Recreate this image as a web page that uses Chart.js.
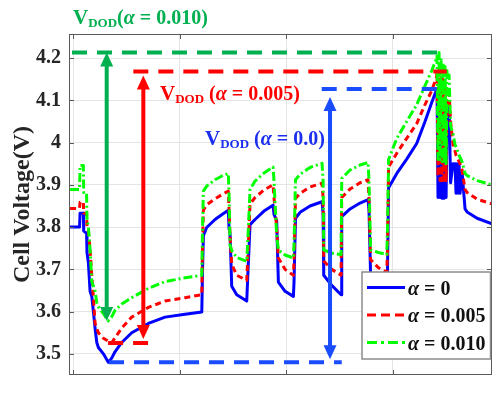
<!DOCTYPE html>
<html><head><meta charset="utf-8">
<script src="https://cdn.jsdelivr.net/npm/chart.js@4.4.0/dist/chart.umd.min.js"></script>
<style>html,body{margin:0;padding:0;background:#fff;}</style>
</head><body>
<canvas id="c" width="493" height="395"></canvas>
<script>
// ---- data (time in arbitrary units, voltage in V) ----
const timeS = [-28,61,66,97,100,127,131,144,160,176,191,207,223,238,285,331,363,394,457,551,707,864,1052,1209,
1216,1224,1255,1333,1399,1458,1465,1474,1490,1537,1631,
1643,1662,1709,1793,1878,1887,1912,1928,1991,2069,
2075,2089,2132,2225,2338,2348,2354,2429,2517,
2523,2601,2695,2770,2779,2794,2867,2946,
2953,2963,3040,3133,3227,3305,3368,3413,3418,3427,3437,3446,3456,3465,3474,3484,3493,3503,3512,3521,3531,
3545,3568,3587,3596,3606,3615,3625,3634,3653,3681,3700,3794,3934];
const vAlpha0 = [3.800,3.800,3.833,3.833,3.791,3.785,3.740,3.716,3.648,3.636,3.600,3.560,3.527,3.515,3.500,3.480,3.490,3.505,3.527,3.550,3.572,3.587,3.594,3.599,
3.700,3.780,3.799,3.818,3.830,3.840,3.796,3.785,3.660,3.640,3.625,
3.697,3.806,3.818,3.838,3.852,3.830,3.815,3.670,3.648,3.636,
3.670,3.821,3.835,3.850,3.860,3.833,3.686,3.662,3.640,
3.825,3.843,3.857,3.865,3.840,3.686,3.660,3.645,
3.700,3.893,3.927,3.961,3.998,4.050,4.095,4.125,4.127,3.870,4.110,3.870,4.100,3.868,4.090,3.868,4.080,3.870,4.070,4.060,4.090,
3.905,3.950,3.950,3.880,3.950,3.880,3.950,3.880,3.930,3.843,3.836,3.821,3.808];
const vAlpha005 = [3.844,3.844,3.859,3.859,3.833,3.833,3.800,3.791,3.746,3.686,3.633,3.572,3.560,3.550,3.537,3.530,3.526,3.538,3.561,3.587,3.610,3.625,3.633,3.640,
3.760,3.840,3.853,3.867,3.877,3.885,3.840,3.780,3.712,3.686,3.674,
3.740,3.855,3.870,3.888,3.900,3.870,3.800,3.727,3.700,3.686,
3.720,3.868,3.880,3.895,3.904,3.870,3.720,3.700,3.686,
3.870,3.890,3.905,3.912,3.870,3.723,3.704,3.693,
3.750,3.942,3.975,4.010,4.045,4.090,4.123,4.155,4.165,3.920,4.168,3.910,4.160,3.910,4.150,3.905,4.140,3.910,4.130,4.110,4.120,
4.050,3.995,3.980,3.970,3.965,3.960,3.955,3.950,3.935,3.889,3.882,3.866,3.855];
const vAlpha010 = [3.889,3.889,3.946,3.946,3.882,3.882,3.821,3.800,3.746,3.671,3.660,3.648,3.621,3.612,3.595,3.578,3.588,3.603,3.618,3.633,3.655,3.671,3.680,3.686,
3.800,3.885,3.897,3.912,3.921,3.927,3.880,3.757,3.745,3.728,3.719,
3.780,3.889,3.909,3.928,3.942,3.910,3.780,3.746,3.734,3.727,
3.760,3.912,3.925,3.941,3.951,3.910,3.746,3.738,3.735,
3.915,3.935,3.947,3.953,3.910,3.746,3.740,3.735,
3.800,3.960,4.010,4.050,4.090,4.135,4.170,4.200,4.205,3.960,4.213,3.960,4.200,3.955,4.190,3.950,4.180,3.950,4.170,4.150,4.160,
4.040,4.020,3.995,3.990,3.985,3.975,3.970,3.965,3.955,3.927,3.922,3.910,3.900];
const seriesNames = ['α = 0', 'α = 0.005', 'α = 0.010'];
const yTicks = [3.5, 3.6, 3.7, 3.8, 3.9, 4.0, 4.1, 4.2];
const xTicks = [0, 1000, 2000, 3000];
const yTitle = 'Cell Voltage(V)';

// ---- styles / annotation config ----
const SERIF = '"Liberation Serif", "Times New Roman", serif';
const lineColors = ['#0000ff', '#ff0000', '#00ff00'];
const plotDash = [[], [6, 4], [9, 3, 2, 3]];
const legendDash = [[], [9, 5], [10, 4, 3, 4]];
const seriesVals = [vAlpha0, vAlpha005, vAlpha010];
const dodMarks = [
  { s: 2, color: '#00b050', text: '#00b050', top: [-10, 3484], bot: null, arrowX: 316, gapT: 0, gapB: 0, lab: [0, 4.2796], sep: '', val: '0.010' },
  { s: 1, color: '#ff0000', text: '#ff0000', top: [566, 3509], bot: [329, 704], arrowX: 660, gapT: 4, gapB: 4, lab: [817, 4.101], sep: ' ', val: '0.005' },
  { s: 0, color: '#1a4cff', text: '#1a2ef0', top: [2335, 3415], bot: [338, 2523], arrowX: 2413, gapT: 8, gapB: 3, lab: [1239, 3.995], sep: ' ', val: '0.0' }
];

function drawRuns(ctx, x, y, runs, color) {
  ctx.fillStyle = color; ctx.textBaseline = 'alphabetic'; ctx.textAlign = 'left';
  for (const r of runs) { ctx.font = r.f; ctx.fillText(r.t, x, y + (r.dy || 0)); x += ctx.measureText(r.t).width; }
}
function arrowV(ctx, x, yTop, yBot, color) {
  const w = 4, hw = 6.5, hl = 14;
  ctx.save(); ctx.setLineDash([]); ctx.strokeStyle = color; ctx.fillStyle = color; ctx.lineWidth = w;
  ctx.beginPath(); ctx.moveTo(x, yTop + hl - 1); ctx.lineTo(x, yBot - hl + 1); ctx.stroke();
  ctx.beginPath(); ctx.moveTo(x, yTop); ctx.lineTo(x - hw, yTop + hl); ctx.lineTo(x + hw, yTop + hl); ctx.closePath(); ctx.fill();
  ctx.beginPath(); ctx.moveTo(x, yBot); ctx.lineTo(x - hw, yBot - hl); ctx.lineTo(x + hw, yBot - hl); ctx.closePath(); ctx.fill();
  ctx.restore();
}

const overlay = {
  id: 'overlay',
  afterDatasetsDraw(chart) {
    const ctx = chart.ctx, a = chart.chartArea, xs = chart.scales.x, ys = chart.scales.y;
    ctx.save();
    // frame + inward ticks
    ctx.strokeStyle = '#5a5a5a'; ctx.lineWidth = 1; ctx.setLineDash([]);
    ctx.strokeRect(a.left + 0.5, a.top + 0.5, a.right - a.left - 1, a.bottom - a.top - 1);
    ctx.beginPath();
    yTicks.forEach(v => { const p = Math.round(ys.getPixelForValue(v)) + 0.5; ctx.moveTo(a.left, p); ctx.lineTo(a.left + 5, p); ctx.moveTo(a.right - 5, p); ctx.lineTo(a.right, p); });
    xTicks.forEach(v => { const p = Math.round(xs.getPixelForValue(v)) + 0.5; ctx.moveTo(p, a.top); ctx.lineTo(p, a.top + 5); ctx.moveTo(p, a.bottom - 5); ctx.lineTo(p, a.bottom); });
    ctx.stroke();
    // V_DOD annotations
    for (const m of dodMarks) {
      const vals = seriesVals[m.s];
      const vmax = Math.max(...vals), vmin = Math.min(...vals);
      const yT = ys.getPixelForValue(vmax), yB = ys.getPixelForValue(vmin);
      ctx.strokeStyle = m.color; ctx.lineWidth = 4; ctx.setLineDash([15, 10]); ctx.lineDashOffset = 0;
      ctx.beginPath(); ctx.moveTo(xs.getPixelForValue(m.top[0]), yT); ctx.lineTo(xs.getPixelForValue(m.top[1]), yT); ctx.stroke();
      if (m.bot) { ctx.beginPath(); ctx.moveTo(xs.getPixelForValue(m.bot[0]), yB); ctx.lineTo(xs.getPixelForValue(m.bot[1]), yB); ctx.stroke(); }
      arrowV(ctx, xs.getPixelForValue(m.arrowX), yT + m.gapT, yB - m.gapB, m.color);
      const main = 'bold 20px ' + SERIF;
      drawRuns(ctx, xs.getPixelForValue(m.lab[0]), ys.getPixelForValue(m.lab[1]), [
        { t: 'V', f: 'bold 21px ' + SERIF },
        { t: 'DOD', f: 'bold 13px ' + SERIF, dy: 3 },
        { t: m.sep + '(', f: main },
        { t: 'α', f: 'italic bold 20px ' + SERIF },
        { t: ' = ' + m.val + ')', f: main }
      ], m.text);
    }
    // legend box
    const L = a.right - 130, T = a.bottom - 103, W = 128.5, H = 87;
    ctx.setLineDash([]); ctx.fillStyle = '#ffffff'; ctx.fillRect(L, T, W, H);
    ctx.strokeStyle = '#8c8c8c'; ctx.lineWidth = 1.5; ctx.strokeRect(L, T, W, H);
    seriesNames.forEach((name, i) => {
      const yy = T + 15.5 + i * 27.5;
      ctx.strokeStyle = lineColors[i]; ctx.lineWidth = 3; ctx.setLineDash(legendDash[i]);
      ctx.beginPath(); ctx.moveTo(L + 5, yy); ctx.lineTo(L + 43, yy); ctx.stroke();
      ctx.setLineDash([]);
      drawRuns(ctx, L + 46, yy + 7, [
        { t: name.slice(0, 1), f: 'italic bold 20px ' + SERIF },
        { t: name.slice(1), f: 'bold 20px ' + SERIF }
      ], '#111111');
    });
    ctx.restore();
  }
};

const dataOf = arr => timeS.map((t, i) => ({ x: t, y: arr[i] }));
new Chart(document.getElementById('c'), {
  type: 'line',
  data: {
    datasets: seriesVals.map((arr, i) => ({
      label: seriesNames[i], data: dataOf(arr), borderColor: lineColors[i], borderWidth: 3,
      borderDash: plotDash[i], borderJoinStyle: 'round', pointRadius: 0, tension: 0, fill: false, order: 3 - i
    }))
  },
  options: {
    responsive: false, animation: false, devicePixelRatio: 1,
    layout: { padding: { top: 34, right: 1, bottom: 0, left: 0 } },
    plugins: { legend: { display: false }, tooltip: { enabled: false } },
    scales: {
      x: {
        type: 'linear', min: -38, max: 3934,
        afterBuildTicks: s => { s.ticks = xTicks.map(v => ({ value: v })); },
        ticks: { display: false },
        grid: { color: '#e4e4e4', drawTicks: false },
        border: { display: false },
        afterFit: s => { s.height = 4; }
      },
      y: {
        type: 'linear', min: 3.45, max: 4.257,
        afterBuildTicks: s => { s.ticks = yTicks.map(v => ({ value: v })); },
        ticks: { padding: 8, color: '#262626', font: { family: SERIF, size: 20, weight: 'bold' },
                 callback: v => String(+(+v).toFixed(1)) },
        grid: { color: '#e4e4e4', drawTicks: false },
        border: { display: false },
        title: { display: true, text: yTitle, color: '#262626', font: { family: SERIF, size: 24, weight: 'bold' }, padding: { top: 8, bottom: 0 } },
        afterFit: s => { s.width = 69; }
      }
    }
  },
  plugins: [overlay]
});
</script>
</body></html>
